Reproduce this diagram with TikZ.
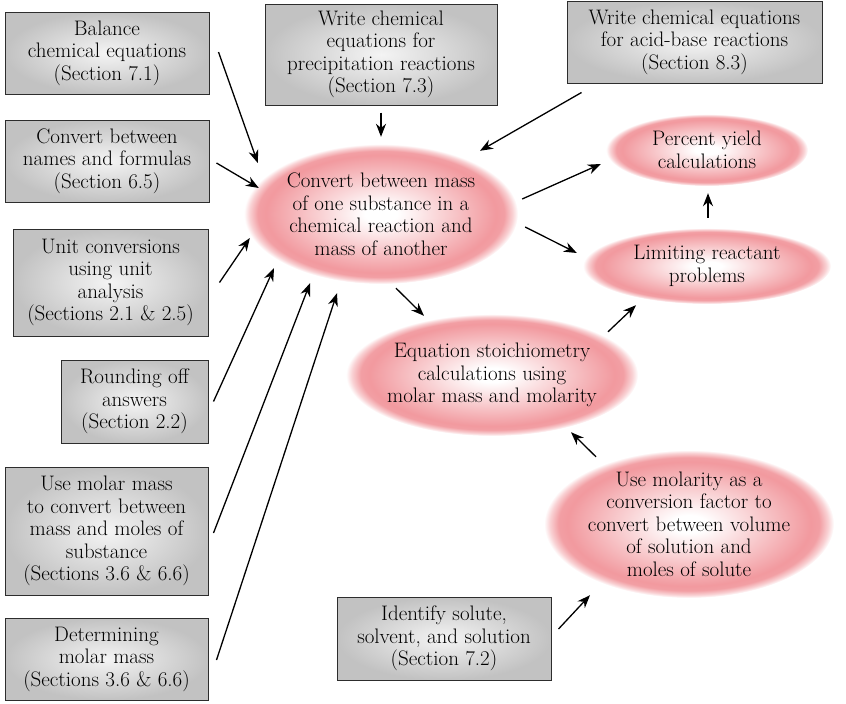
\documentclass[tikz,border=0pt]{standalone}
\usetikzlibrary{arrows.meta,calc,shapes.geometric}

\definecolor{rimpink}{RGB}{240,142,148}
\definecolor{boxlight}{RGB}{244,244,244}
\definecolor{boxdark}{RGB}{194,194,194}
\definecolor{inkgray}{RGB}{45,45,45}

\pgfdeclareradialshading{blushglow}{\pgfpoint{0bp}{0bp}}{color(0bp)=(white); color(3bp)=(white); color(10bp)=(rimpink!35); color(16bp)=(rimpink!65); color(21bp)=(rimpink!90); color(22.5bp)=(rimpink!85); color(24bp)=(rimpink!40); color(25bp)=(white); color(50bp)=(white)}
\pgfdeclareradialshading{boxglow}{\pgfpoint{0bp}{0bp}}{color(0bp)=(boxlight); color(25bp)=(boxdark); color(50bp)=(boxdark)}

\begin{document}
\begin{tikzpicture}[
        x=1pt, y=-1pt,
        font=\fontsize{21}{22.5}\selectfont,
        arrow/.style={-{Stealth[length=13pt, width=10pt]}, line width=1.3pt},
        topic/.style={draw=inkgray, line width=1pt, shading=boxglow, align=center, inner sep=2pt},
        goal/.style={ellipse, shading=blushglow, inner sep=0pt},
        goaltext/.style={align=center, inner sep=0pt}
    ]
        \useasboundingbox (0,0) rectangle (846,704);

        % prerequisite boxes
        \node[topic, minimum width=204pt, minimum height=82pt] (balance) at (107,53) {Balance\\chemical equations\\(Section 7.1)};
        \node[topic, minimum width=204pt, minimum height=82pt] (names) at (107,161) {Convert between\\names and formulas\\(Section 6.5)};
        \node[topic, minimum width=195pt, minimum height=107pt] (units) at (110.5,282.5) {Unit conversions\\using unit\\analysis\\(Sections 2.1 \& 2.5)};
        \node[topic, minimum width=147pt, minimum height=83pt] (rounding) at (134.5,401.5) {Rounding off\\answers\\(Section 2.2)};
        \node[topic, minimum width=203pt, minimum height=128pt] (molarmass) at (106.5,531) {Use molar mass\\to convert between\\mass and moles of\\substance\\(Sections 3.6 \& 6.6)};
        \node[topic, minimum width=203pt, minimum height=82pt] (determine) at (106.5,659) {Determining\\molar mass\\(Sections 3.6 \& 6.6)};
        \node[topic, minimum width=232pt, minimum height=101pt] (precip) at (381,54.5) {Write chemical\\equations for\\precipitation reactions\\(Section 7.3)};
        \node[topic, minimum width=255pt, minimum height=82pt] (acidbase) at (694.5,42) {Write chemical equations\\for acid-base reactions\\(Section 8.3)};
        \node[topic, minimum width=214pt, minimum height=83pt] (solute) at (444,638.5) {Identify solute,\\solvent, and solution\\(Section 7.2)};

        % goal ellipses
        \node[goal, minimum width=274pt, minimum height=140pt] (mass) at (381,214) {};
        \node[goaltext] at (mass) {Convert between mass\\of one substance in a\\chemical reaction and\\mass of another};
        \node[goal, minimum width=202pt, minimum height=72pt] (yield) at (707,150) {};
        \node[goaltext] at (yield) {Percent yield\\calculations};
        \node[goal, minimum width=248pt, minimum height=76pt] (limiting) at (707,266) {};
        \node[goaltext] at (limiting) {Limiting reactant\\problems};
        \node[goal, minimum width=292pt, minimum height=122pt] (stoich) at (492,375) {};
        \node[goaltext] at (stoich) {Equation stoichiometry\\calculations using\\molar mass and molarity};
        \node[goal, minimum width=290pt, minimum height=148pt] (molarity) at (689,524) {};
        \node[goaltext] at (molarity) {Use molarity as a\\conversion factor to\\convert between volume\\of solution and\\moles of solute};

        % arrows into the central ellipse
        \draw[arrow] ($(balance.east)+(9,-1)$) -- ($(mass.west)+(14,-51)$);
        \draw[arrow] ($(names.east)+(7,2)$) -- ($(mass.west)+(15,-26)$);
        \draw[arrow] ($(units.east)+(11,0)$) -- ($(mass.west)+(6,24)$);
        \draw[arrow] ($(rounding.east)+(5,0)$) -- ($(mass.south)+(-107,-16)$);
        \draw[arrow] ($(molarmass.east)+(5,2)$) -- ($(mass.south)+(-71,-1)$);
        \draw[arrow] ($(determine.east)+(8,1)$) -- ($(mass.south)+(-44,9)$);
        \draw[arrow] ($(precip.south)+(0,7)$) -- ($(mass.north)+(0,-7)$);
        \draw[arrow] ($(acidbase.south west)+(15,9)$) -- ($(mass.north)+(99,7)$);

        % arrows between the ellipses
        \draw[arrow] ($(mass.east)+(4,-15)$) -- ($(yield.west)+(-5,14)$);
        \draw[arrow] ($(mass.east)+(7,13)$) -- ($(limiting.west)+(-6,-13)$);
        \draw[arrow] ($(mass.south)+(15,4)$) -- ($(stoich.north)+(-68,2)$);
        \draw[arrow] ($(stoich.north)+(116,18)$) -- ($(limiting.south)+(-71,1)$);
        \draw[arrow] ($(limiting.north)+(1,-10)$) -- ($(yield.south)+(1,7)$);
        \draw[arrow] ($(molarity.north)+(-93,7)$) -- ($(stoich.south)+(79,-4)$);
        \draw[arrow] ($(solute.east)+(7,-9.5)$) -- ($(molarity.south)+(-99,-3)$);
    \end{tikzpicture}
\end{document}
